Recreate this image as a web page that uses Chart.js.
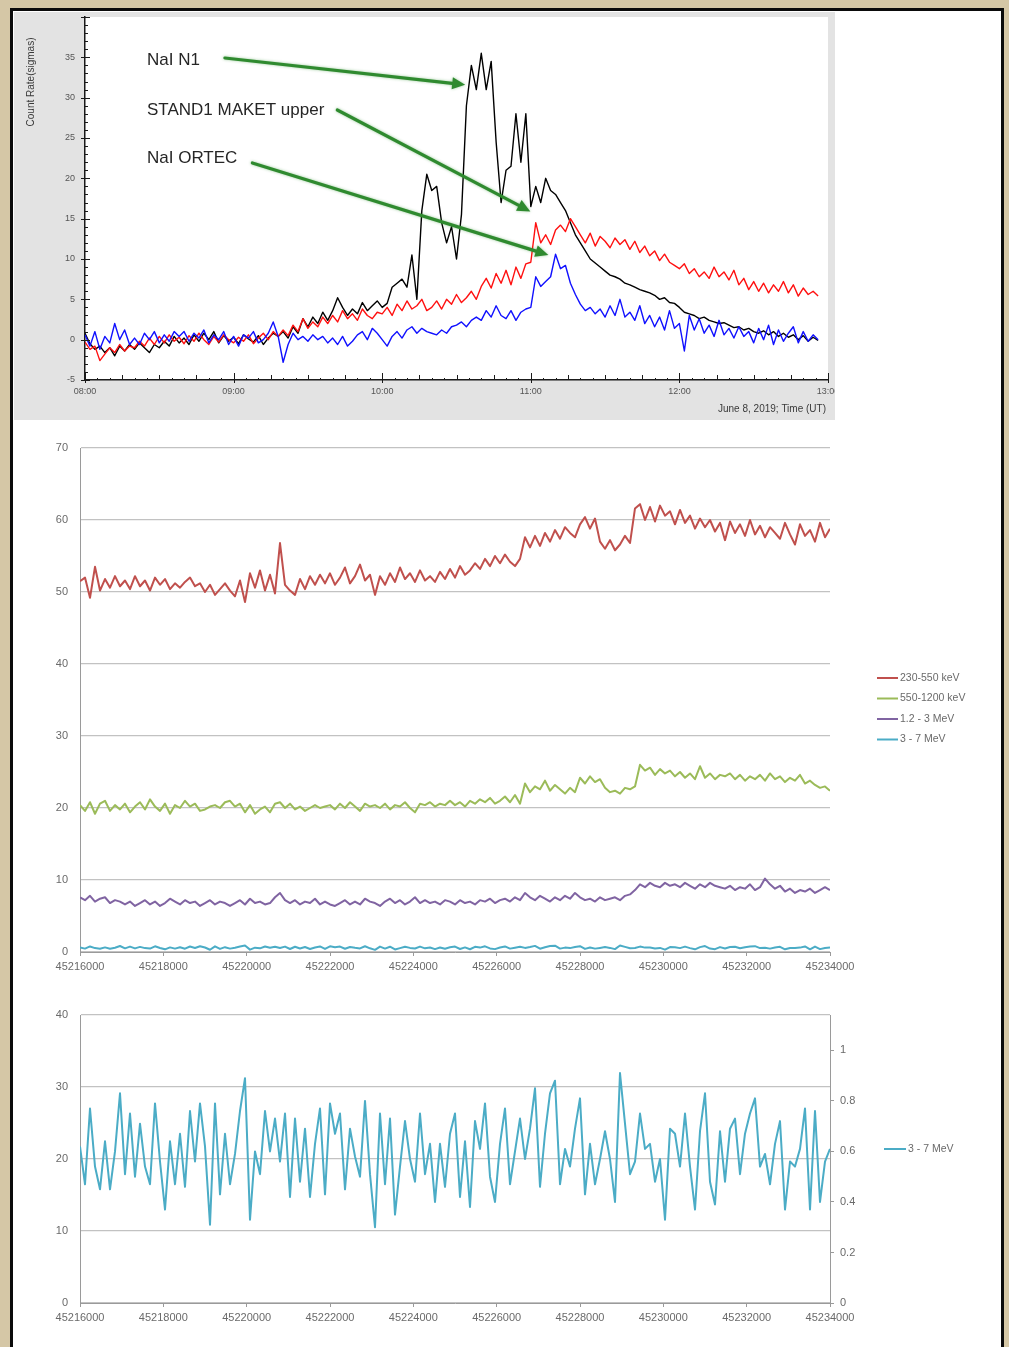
<!DOCTYPE html>
<html>
<head>
<meta charset="utf-8">
<title>June 8, 2019 event</title>
<script src="https://cdn.jsdelivr.net/npm/chart.js@4.4.1/dist/chart.umd.min.js"></script>
<style>
  html, body { margin: 0; padding: 0; width: 1009px; height: 1347px; overflow: hidden; background: #d5c7a6; }
  #frame { position: absolute; left: 10px; top: 8px; width: 988px; height: 1400px; border: 3px solid #0b0b0b; background: #fff; }
  canvas { position: absolute; }
  #flare { left: 14px; top: 12px; }
  #bands { left: 14px; top: 425px; }
  #hard { left: 14px; top: 995px; }
</style>
</head>
<body>
<div id="frame"></div>
<canvas id="flare" width="821" height="408"></canvas>
<canvas id="bands" width="986" height="560"></canvas>
<canvas id="hard" width="986" height="345"></canvas>
<script>
// ---------- Panel 1: count rates (sigmas), minutes after 08:00 UT, 2-min bins ----------
const TOP_STEP_MIN = 2;
const nai_n1 = [
  0.8, -0.5, -1.2, -0.8, -1.6, -1.0, -2.0, -0.8, -1.4, -0.6,
  -1.2, -0.4, -1.0, -1.6, -0.6, -1.0, -0.2, -0.8, 0.4, -0.4,
  0.2, -0.6, 0.6, -0.2, 0.8, 0.0, 1.0, -0.4, 0.5, -0.2,
  0.3, -0.5, 0.6, 0.1, -0.3, 0.5, -0.6, 0.2, 0.8, 0.4,
  1.0, 0.2, 1.6, 0.8, 2.6, 1.6, 2.8, 2.0, 3.4, 2.4,
  3.6, 5.2, 4.0, 3.0, 3.8, 3.2, 4.6, 3.6, 4.2, 4.8,
  4.0, 4.5, 6.5, 7.0, 7.5, 6.5, 10.5, 5.0, 16.0, 20.5,
  18.5, 19.0, 14.5, 12.0, 14.0, 10.0, 15.5, 29.0, 34.0, 31.0,
  35.5, 31.0, 34.5, 24.5, 17.0, 21.0, 21.5, 28.0, 22.0, 28.0,
  16.5, 19.0, 17.0, 20.0, 18.5, 18.0, 17.0, 16.0, 14.5, 13.0,
  12.0, 11.0, 10.0, 9.5, 9.0, 8.5, 8.0, 7.8, 7.5, 7.0,
  6.8, 6.5, 6.2, 6.0, 5.8, 5.5, 5.0, 5.2, 4.6, 4.5,
  4.0, 3.4, 3.2, 3.0, 2.6, 2.8, 2.4, 2.2, 2.0, 2.1,
  1.8, 1.5, 1.6, 1.2, 1.4, 1.0, 0.8, 1.1, 0.6, 1.0,
  0.4, 0.8, 0.3, 0.6, 0.0, 0.5, -0.2, 0.3, -0.1
];
const stand1_upper = [
  -0.3, -1.2, -0.8, -2.6, -1.8, -1.0, -1.6, -0.6, -1.4, -0.8,
  -1.0, -0.2, -0.8, 0.2, -0.6, 0.4, -0.4, 0.6, -0.2, 0.3,
  -0.5, 0.5, -0.2, 0.8, 0.0, -0.6, 0.4, -0.3, 0.6, 0.0,
  -0.4, 0.3, -0.2, 0.6, -0.5, 0.2, 0.8, 0.0, 1.0, 0.4,
  1.2, 0.5, 1.8, 1.0, 2.6, 1.4, 2.2, 1.6, 2.8, 2.0,
  3.0, 2.2, 3.6, 2.6, 3.2, 2.4, 3.8, 3.0, 2.6, 3.4,
  3.2, 4.0, 3.0, 4.4, 3.6, 4.8, 3.8, 4.2, 5.0, 3.6,
  4.0, 4.8, 3.8, 5.0, 4.4, 5.6, 4.6, 5.2, 6.0, 5.0,
  6.6, 7.6, 6.4, 8.2, 7.0, 8.6, 6.8, 9.0, 7.6, 9.4,
  9.6, 14.5, 12.0, 13.0, 11.8, 13.6, 14.2, 13.4, 15.0, 14.0,
  13.0, 12.0, 13.2, 11.6, 12.8, 12.2, 11.4, 12.6, 11.8, 12.4,
  11.2, 12.2, 10.8, 11.6, 10.4, 11.0, 9.8, 10.6, 9.6, 9.2,
  8.8, 9.4, 8.2, 8.8, 7.8, 8.4, 7.6, 9.0, 7.8, 8.4,
  7.4, 8.6, 6.8, 7.6, 6.2, 7.2, 6.0, 7.0, 5.8, 6.8,
  6.0, 7.2, 5.8, 6.8, 5.4, 6.4, 5.6, 6.0, 5.4
];
const nai_ortec = [
  0.6, -0.8, 1.0, -1.2, 0.4, -0.4, 2.0, 0.0, 1.2, -0.6,
  0.2, -0.6, 0.8, 0.0, 1.0, -0.4, 0.6, -0.2, 1.0, 0.4,
  1.0, -0.2, 0.8, 0.2, 1.2, -0.4, 0.6, 0.0, 1.0, -0.6,
  0.4, -0.8, 0.6, 0.2, 1.0, -0.4, 0.0, 0.8, 2.2, 0.4,
  -2.8, -0.6, 0.8, 0.0, 0.4, -0.2, 0.6, 0.0, 0.4, -0.4,
  0.2, -0.6, 0.4, -0.8, -0.2, 0.6, 1.0, 0.0, 1.4, 0.8,
  0.0, -0.8, 0.4, 1.0, 0.2, 1.2, 1.6, 0.8, 1.4, 1.0,
  0.8, 0.6, 1.2, 0.8, 1.6, 1.8, 2.2, 1.6, 2.4, 2.8,
  2.4, 3.6, 2.8, 4.2, 3.0, 2.6, 3.6, 2.4, 3.4, 3.8,
  4.0, 7.8, 6.6, 7.2, 7.8, 10.6, 8.8, 9.2, 7.0, 5.6,
  4.4, 3.6, 4.0, 3.2, 3.8, 2.8, 4.2, 3.0, 5.0, 2.8,
  3.4, 2.4, 4.2, 2.0, 3.0, 1.6, 2.8, 1.2, 3.6, 1.4,
  2.0, -1.4, 3.0, 1.2, 2.6, 0.8, 1.8, 0.4, 2.4, 0.6,
  1.4, 0.2, 1.6, 0.4, 1.0, -0.4, 1.4, 0.0, 1.8, -0.6,
  1.2, -0.2, 0.8, 1.6, -0.4, 1.0, -0.2, 0.6, 0.0
];
const flareSeriesNames = ['NaI N1', 'STAND1 MAKET upper', 'NaI ORTEC'];
const flareTargets = [[153.5, 31.6], [179.8, 15.9], [187.1, 10.5]]; // (minutes, sigmas) the callouts point to
const FLARE_X_TITLE = 'June 8, 2019; Time (UT)';
const FLARE_Y_TITLE = 'Count Rate(sigmas)';

// ---------- Panels 2 and 3: energy bands, time in seconds, 120-s bins ----------
const T0_SEC = 45216000, STEP_SEC = 120;
const bandNames = ['230-550 keV', '550-1200 keV', '1.2 - 3 MeV', '3 - 7 MeV'];
const band_230_550 = [
  51.5, 52.0, 49.2, 53.5, 50.2, 51.8, 50.6, 52.2, 50.8, 51.6,
  50.4, 52.2, 50.8, 51.6, 50.2, 52.0, 51.0, 51.8, 50.4, 51.2,
  50.6, 51.4, 52.0, 50.8, 51.2, 50.0, 51.0, 49.6, 50.4, 51.2,
  50.2, 49.4, 51.6, 48.6, 52.6, 50.6, 53.0, 50.2, 52.4, 49.8,
  56.8, 51.0, 50.2, 49.6, 51.8, 50.4, 52.2, 51.0, 52.4, 51.2,
  52.6, 51.0, 52.0, 53.4, 51.2, 52.2, 53.8, 51.6, 52.4, 49.6,
  52.2, 51.0, 52.6, 51.4, 53.4, 51.8, 52.6, 51.4, 53.0, 51.6,
  52.2, 51.4, 52.8, 51.8, 53.2, 52.0, 53.6, 52.4, 53.0, 54.0,
  53.2, 54.6, 53.6, 55.0, 54.0, 55.2, 54.2, 53.6, 54.6, 57.6,
  56.2, 57.8, 56.4, 58.2, 57.0, 58.6, 57.4, 59.0, 58.2, 57.6,
  59.4, 60.4, 58.8, 60.2, 57.0, 56.0, 57.2, 55.8, 56.6, 57.8,
  56.8, 61.6, 62.2, 60.0, 61.8, 59.8, 62.0, 60.6, 61.2, 59.4,
  61.4, 59.6, 60.6, 58.8, 60.2, 59.0, 60.0, 58.4, 59.6, 57.2,
  59.8, 58.2, 59.4, 57.8, 60.0, 58.0, 59.2, 57.6, 59.0, 58.2,
  57.4, 59.6, 58.0, 56.6, 59.4, 57.8, 58.6, 57.0, 59.6, 57.6, 58.8
];
const band_550_1200 = [
  20.4, 19.6, 20.8, 19.2, 20.6, 21.0, 19.6, 20.4, 19.8, 20.6,
  19.4, 20.2, 20.8, 19.8, 21.2, 20.2, 19.6, 20.6, 19.2, 20.4,
  20.0, 21.0, 20.2, 20.6, 19.6, 19.8, 20.2, 20.4, 20.0, 20.8,
  21.0, 20.2, 20.6, 19.4, 20.4, 19.2, 19.8, 20.2, 19.4, 20.6,
  20.8, 20.0, 20.6, 19.8, 20.2, 19.6, 20.0, 20.4, 20.0, 20.2,
  20.4, 19.8, 20.6, 20.0, 20.8, 20.2, 19.6, 20.6, 20.2, 20.4,
  20.0, 20.6, 19.8, 20.4, 20.2, 20.8, 20.0, 19.4, 20.6, 20.4,
  20.8, 20.2, 20.6, 20.4, 21.0, 20.4, 20.8, 20.2, 21.0, 20.6,
  21.2, 20.8, 21.4, 20.6, 21.0, 21.6, 20.8, 21.8, 20.6, 23.4,
  22.2, 23.0, 22.6, 23.8, 22.4, 23.2, 22.6, 22.0, 22.8, 22.2,
  24.2, 23.4, 24.4, 23.6, 24.0, 22.8, 22.2, 22.4, 22.0, 22.8,
  22.6, 23.0, 26.0, 25.2, 25.6, 24.6, 25.4, 24.8, 25.2, 24.4,
  25.0, 24.2, 24.8, 24.0, 25.8, 24.2, 24.8, 24.0, 24.6, 24.4,
  24.8, 24.0, 24.6, 23.8, 24.4, 24.0, 24.6, 23.8, 24.8, 24.0,
  24.4, 23.6, 24.2, 23.8, 24.6, 23.4, 23.8, 23.2, 22.8, 23.0, 22.4
];
const band_1p2_3 = [
  7.6, 7.2, 7.8, 7.0, 7.4, 7.6, 6.8, 7.2, 7.0, 6.6,
  7.0, 6.4, 6.8, 7.2, 6.6, 7.0, 6.4, 6.8, 7.4, 7.0,
  6.6, 7.2, 6.8, 7.0, 6.4, 6.8, 7.2, 6.6, 7.0, 6.8,
  6.4, 6.8, 7.2, 6.6, 7.4, 6.8, 7.0, 6.6, 6.8, 7.6,
  8.2, 7.2, 6.8, 7.2, 6.6, 7.0, 6.8, 7.4, 6.6, 7.0,
  6.6, 6.4, 6.8, 7.2, 6.6, 7.0, 6.6, 7.4, 7.0, 6.8,
  6.4, 7.0, 7.4, 6.8, 7.2, 6.6, 7.0, 7.6, 6.8, 7.2,
  6.8, 7.0, 6.6, 7.2, 7.0, 6.6, 7.2, 6.8, 7.0, 6.6,
  7.2, 7.0, 7.4, 6.8, 7.2, 7.4, 7.0, 7.6, 7.2, 8.2,
  7.6, 7.2, 7.8, 7.4, 7.0, 7.6, 7.2, 7.8, 7.4, 8.2,
  7.6, 7.2, 7.4, 7.0, 7.6, 7.2, 7.4, 7.6, 7.2, 7.8,
  8.0, 8.6, 9.4, 9.0, 9.6, 9.2, 9.0, 9.6, 9.2, 9.4,
  9.0, 9.6, 9.2, 8.8, 9.4, 9.0, 9.6, 9.2, 9.0, 8.8,
  9.2, 8.6, 9.0, 8.8, 9.4, 8.6, 9.0, 10.2, 9.4, 8.8,
  9.2, 8.4, 8.8, 8.2, 8.6, 8.4, 8.8, 8.2, 8.6, 9.0, 8.6
];
const band_3_7 = [
  0.62, 0.47, 0.77, 0.54, 0.45, 0.64, 0.45, 0.60, 0.83, 0.51,
  0.75, 0.50, 0.71, 0.54, 0.47, 0.79, 0.56, 0.37, 0.64, 0.47,
  0.67, 0.46, 0.76, 0.56, 0.79, 0.62, 0.31, 0.79, 0.43, 0.67,
  0.47, 0.59, 0.76, 0.89, 0.33, 0.60, 0.51, 0.76, 0.60, 0.73,
  0.56, 0.75, 0.42, 0.73, 0.48, 0.69, 0.42, 0.63, 0.77, 0.43,
  0.79, 0.67, 0.75, 0.45, 0.69, 0.58, 0.50, 0.80, 0.51, 0.30,
  0.75, 0.47, 0.73, 0.35, 0.54, 0.72, 0.57, 0.48, 0.75, 0.51,
  0.63, 0.40, 0.63, 0.46, 0.67, 0.75, 0.42, 0.64, 0.38, 0.72,
  0.61, 0.79, 0.50, 0.40, 0.63, 0.77, 0.47, 0.60, 0.73, 0.57,
  0.69, 0.85, 0.46, 0.67, 0.83, 0.88, 0.47, 0.61, 0.54, 0.69,
  0.81, 0.43, 0.63, 0.47, 0.57, 0.68, 0.57, 0.40, 0.91, 0.71,
  0.51, 0.56, 0.75, 0.61, 0.63, 0.48, 0.57, 0.33, 0.69, 0.67,
  0.54, 0.75, 0.54, 0.37, 0.68, 0.83, 0.48, 0.39, 0.68, 0.48,
  0.69, 0.73, 0.51, 0.67, 0.75, 0.81, 0.54, 0.59, 0.47, 0.63,
  0.72, 0.37, 0.56, 0.54, 0.61, 0.77, 0.37, 0.76, 0.40, 0.56, 0.61
];
const bandColors = ['#c0504d', '#9bbb59', '#8064a2', '#4bacc6'];

// ---------- helpers ----------
function pairs(xs, ys) { return ys.map((y, i) => ({ x: xs[i], y: y })); }
const flareTimes = nai_n1.map((_, i) => i * TOP_STEP_MIN);
const bandTimes = band_230_550.map((_, i) => T0_SEC + i * STEP_SEC);
const hhmm = m => String(8 + Math.floor(m / 60)).padStart(2, '0') + ':' + String(m % 60).padStart(2, '0');
const SANS = "'Liberation Sans', Arial, sans-serif";
const XL_FONT = { family: SANS, size: 11 };
const XL_TEXT = '#6a6a6a';

function fixBox(w, h) {
  return function (s) {
    if (w != null) s.width = w;
    if (h != null) s.height = h;
    s.paddingLeft = 0; s.paddingRight = 0; s.paddingTop = 0; s.paddingBottom = 0;
  };
}

// ---------- Panel 1 decorations: background, inner ticks, titles, callouts ----------
const flareDecor = {
  id: 'flareDecor',
  beforeDraw(chart) {
    const { ctx, chartArea: a, width, height } = chart;
    ctx.save();
    ctx.fillStyle = '#e3e3e3';
    ctx.fillRect(0, 0, width, height);
    ctx.fillStyle = '#ffffff';
    ctx.fillRect(a.left, a.top, a.right - a.left, a.bottom - a.top);
    ctx.restore();
  },
  afterDraw(chart) {
    const { ctx, chartArea: a } = chart;
    const x = chart.scales.x, y = chart.scales.y;
    ctx.save();
    ctx.strokeStyle = '#1a1a1a';
    ctx.lineWidth = 1;
    for (let v = y.min; v <= y.max; v++) {
      const py = Math.round(y.getPixelForValue(v)) + 0.5;
      const major = v % 5 === 0;
      ctx.beginPath();
      ctx.moveTo(a.left - (major ? 4 : 0), py);
      ctx.lineTo(a.left + (major ? 5 : 3), py);
      ctx.stroke();
    }
    for (let m = x.min; m <= x.max; m += 5) {
      const px = Math.round(x.getPixelForValue(m)) + 0.5;
      const len = m % 60 === 0 ? 7 : (m % 15 === 0 ? 5 : 2);
      ctx.beginPath();
      ctx.moveTo(px, a.bottom + (m % 60 === 0 ? 3 : 0));
      ctx.lineTo(px, a.bottom - len);
      ctx.stroke();
    }
    // axis titles
    ctx.fillStyle = '#3a3a3a';
    ctx.font = '10px ' + SANS;
    ctx.textBaseline = 'middle';
    ctx.textAlign = 'right';
    ctx.fillText(FLARE_X_TITLE, 812, 397);
    ctx.save();
    ctx.translate(17, 70);
    ctx.rotate(-Math.PI / 2);
    ctx.textAlign = 'center';
    ctx.fillText(FLARE_Y_TITLE, 0, 0);
    ctx.restore();
    // callouts
    const textX = 133, textY = [48, 98, 146], gap = [25, 13, 15], dy = [-2, 0, 5];
    ctx.font = '17px ' + SANS;
    ctx.textAlign = 'left';
    flareSeriesNames.forEach((name, i) => {
      ctx.fillStyle = '#262626';
      ctx.fillText(name, textX, textY[i]);
      const w = ctx.measureText(name).width;
      const sx = textX + w + gap[i], sy = textY[i] + dy[i];
      const ex = x.getPixelForValue(flareTargets[i][0]);
      const ey = y.getPixelForValue(flareTargets[i][1]);
      const ang = Math.atan2(ey - sy, ex - sx);
      const head = 13, half = 6;
      const bx = ex - head * Math.cos(ang), by = ey - head * Math.sin(ang);
      ctx.save();
      ctx.shadowColor = 'rgba(40,140,40,0.45)';
      ctx.shadowBlur = 3;
      ctx.strokeStyle = '#2f8a2f';
      ctx.fillStyle = '#2f8a2f';
      ctx.lineWidth = 3.2;
      ctx.lineCap = 'round';
      ctx.beginPath();
      ctx.moveTo(sx, sy);
      ctx.lineTo(bx, by);
      ctx.stroke();
      ctx.beginPath();
      ctx.moveTo(ex, ey);
      ctx.lineTo(bx + half * Math.sin(ang), by - half * Math.cos(ang));
      ctx.lineTo(bx - half * Math.sin(ang), by + half * Math.cos(ang));
      ctx.closePath();
      ctx.fill();
      ctx.restore();
    });
    ctx.restore();
  }
};

// ---------- Legend drawn beside the plot (Excel style) ----------
const sideLegend = {
  id: 'sideLegend',
  afterDraw(chart, args, o) {
    const ctx = chart.ctx;
    ctx.save();
    ctx.font = '10.5px ' + SANS;
    ctx.textBaseline = 'middle';
    ctx.textAlign = 'left';
    chart.data.datasets.forEach((ds, i) => {
      const yy = o.y0 + i * o.dy;
      ctx.strokeStyle = ds.borderColor;
      ctx.lineWidth = 2;
      ctx.beginPath();
      ctx.moveTo(o.x0, yy);
      ctx.lineTo(o.x0 + o.len, yy);
      ctx.stroke();
      ctx.fillStyle = XL_TEXT;
      ctx.fillText(ds.label, o.x0 + o.len + 2, yy);
    });
    ctx.restore();
  }
};

// ---------- Panel 1 ----------
new Chart(document.getElementById('flare'), {
  type: 'line',
  data: {
    datasets: [
      { label: flareSeriesNames[0], data: pairs(flareTimes, nai_n1), borderColor: '#000000', borderWidth: 1.4, order: 3 },
      { label: flareSeriesNames[1], data: pairs(flareTimes, stand1_upper), borderColor: '#ff1010', borderWidth: 1.4, order: 2 },
      { label: flareSeriesNames[2], data: pairs(flareTimes, nai_ortec), borderColor: '#1010ff', borderWidth: 1.4, order: 1 }
    ]
  },
  options: {
    responsive: false, animation: false, devicePixelRatio: 1,
    layout: { padding: { left: 0, right: 7, top: 5, bottom: 0 } },
    elements: { point: { radius: 0 }, line: { tension: 0, borderJoinStyle: 'round' } },
    plugins: { legend: { display: false }, tooltip: { enabled: false } },
    scales: {
      x: {
        type: 'linear', min: 0, max: 300,
        grid: { display: false, drawTicks: false },
        border: { display: true, color: '#1a1a1a', width: 1.5 },
        ticks: { stepSize: 60, padding: 6, maxRotation: 0, autoSkip: false, color: '#555', font: { family: SANS, size: 9 }, callback: v => hhmm(v) },
        afterFit: fixBox(null, 40)
      },
      y: {
        min: -5, max: 40,
        grid: { display: false, drawTicks: false },
        border: { display: true, color: '#1a1a1a', width: 1.5 },
        ticks: { stepSize: 5, padding: 10, color: '#555', font: { family: SANS, size: 9 }, callback: v => (v === 40 ? '' : v) },
        afterFit: fixBox(71, null)
      }
    }
  },
  plugins: [flareDecor]
});

// ---------- Panel 2: all four bands ----------
new Chart(document.getElementById('bands'), {
  type: 'line',
  data: {
    datasets: [band_230_550, band_550_1200, band_1p2_3, band_3_7].map((vals, i) => ({
      label: bandNames[i], data: pairs(bandTimes, vals), borderColor: bandColors[i], borderWidth: 2
    }))
  },
  options: {
    responsive: false, animation: false, devicePixelRatio: 1,
    layout: { padding: { left: 0, right: 170, top: 23, bottom: 0 } },
    elements: { point: { radius: 0 }, line: { tension: 0, borderJoinStyle: 'round' } },
    plugins: { legend: { display: false }, tooltip: { enabled: false }, sideLegend: { x0: 863, len: 21, y0: 253, dy: 20.5 } },
    scales: {
      x: {
        type: 'linear', min: 45216000, max: 45234000,
        grid: { drawOnChartArea: false, drawTicks: true, tickLength: 4, color: '#9a9a9a' },
        border: { color: '#9a9a9a', width: 1 },
        ticks: { stepSize: 2000, padding: 4, maxRotation: 0, autoSkip: false, color: XL_TEXT, font: XL_FONT, callback: v => String(v) },
        afterFit: fixBox(null, 33)
      },
      y: {
        min: 0, max: 70,
        grid: { color: '#c2c2c2', lineWidth: 1.3, drawTicks: false },
        border: { color: '#9a9a9a', width: 1 },
        ticks: { stepSize: 10, padding: 12, color: XL_TEXT, font: XL_FONT },
        afterFit: fixBox(66, null)
      }
    }
  },
  plugins: [sideLegend]
});

// ---------- Panel 3: 3 - 7 MeV on its own (secondary) axis ----------
new Chart(document.getElementById('hard'), {
  type: 'line',
  data: {
    datasets: [{ label: bandNames[3], data: pairs(bandTimes, band_3_7), borderColor: bandColors[3], borderWidth: 2, yAxisID: 'y1' }]
  },
  options: {
    responsive: false, animation: false, devicePixelRatio: 1,
    layout: { padding: { left: 0, right: 130, top: 20, bottom: 0 } },
    elements: { point: { radius: 0 }, line: { tension: 0, borderJoinStyle: 'round' } },
    plugins: { legend: { display: false }, tooltip: { enabled: false }, sideLegend: { x0: 870, len: 22, y0: 154, dy: 20 } },
    scales: {
      x: {
        type: 'linear', min: 45216000, max: 45234000,
        grid: { drawOnChartArea: false, drawTicks: true, tickLength: 4, color: '#9a9a9a' },
        border: { color: '#9a9a9a', width: 1 },
        ticks: { stepSize: 2000, padding: 4, maxRotation: 0, autoSkip: false, color: XL_TEXT, font: XL_FONT, callback: v => String(v) },
        afterFit: fixBox(null, 37)
      },
      y: {
        position: 'left', min: 0, max: 40,
        grid: { color: '#c2c2c2', lineWidth: 1.3, drawTicks: false },
        border: { color: '#9a9a9a', width: 1 },
        ticks: { stepSize: 10, padding: 12, color: XL_TEXT, font: XL_FONT },
        afterFit: fixBox(66, null)
      },
      y1: {
        position: 'right', min: 0, max: 1.14,
        afterBuildTicks(s) { s.ticks = [0, 0.2, 0.4, 0.6, 0.8, 1].map(v => ({ value: v })); },
        grid: { drawOnChartArea: false, drawTicks: true, tickLength: 4, color: '#9a9a9a' },
        border: { color: '#9a9a9a', width: 1 },
        ticks: { padding: 6, color: XL_TEXT, font: XL_FONT, callback: v => String(Math.round(v * 10) / 10) },
        afterFit: fixBox(40, null)
      }
    }
  },
  plugins: [sideLegend]
});
</script>
</body>
</html>
